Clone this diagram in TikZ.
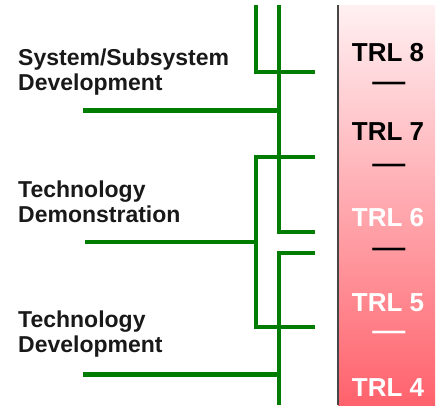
\documentclass[tikz,border=0pt]{standalone}
\usepackage{fontspec}
\usepackage{graphicx}
\setmainfont{Liberation Sans}
\definecolor{trlgreen}{RGB}{0,124,0}
\definecolor{pinktop}{RGB}{255,240,242}
\definecolor{pinkbot}{RGB}{255,98,108}
\definecolor{axisgray}{RGB}{70,70,70}
\definecolor{labelink}{RGB}{25,25,25}
\begin{document}
\begin{tikzpicture}[x=1pt,y=-1pt,
  gline/.style={draw=trlgreen,line width=3.4pt,line join=miter},
  thickline/.style={draw=trlgreen,line width=5pt},
  phase/.style={anchor=north west,inner sep=0pt,align=left,text=labelink,font=\fontsize{23}{25}\selectfont\bfseries},
  trl/.style={anchor=center,inner sep=0pt,font=\fontsize{26}{30}\selectfont\bfseries},
  sep/.style={anchor=base,inner sep=0pt,font=\fontsize{26}{30}\selectfont\bfseries}]
\useasboundingbox (0,0) rectangle (439,405);
% scale panel
\shade[top color=pinktop,bottom color=pinkbot] (338,5) rectangle (435,405);
\draw[axisgray,line width=2pt] (338,5) -- (338,405);
% coordinates of the green tree
\coordinate (a1) at (256,5);   \coordinate (a2) at (256,72);  \coordinate (a3) at (315,72);
\coordinate (b1) at (279,5);   \coordinate (b2) at (279,232); \coordinate (b3) at (315,232);
\coordinate (h1a) at (83,110); \coordinate (h1b) at (279,110);
\coordinate (c1) at (315,157); \coordinate (c2) at (256,157); \coordinate (c3) at (256,327); \coordinate (c4) at (315,327);
\coordinate (h2a) at (85,242); \coordinate (h2b) at (256,242);
\coordinate (d1) at (315,253); \coordinate (d2) at (279,253); \coordinate (d3) at (279,405);
\coordinate (h3a) at (83,374); \coordinate (h3b) at (279,374);
\draw[gline] (a1) -- (a2) -- (a3);
\draw[gline] (b1) -- (b2) -- (b3);
\draw[gline] (c1) -- (c2) -- (c3) -- (c4);
\draw[gline] (d1) -- (d2) -- (d3);
\draw[gline] (h2a) -- (h2b);
\draw[thickline] (h1a) -- (h1b);
\draw[thickline] (h3a) -- (h3b);
% phase labels
\node[phase] (sys) at (18,49) {System/Subsystem\\Development};
\node[phase] (demo) at (18,181) {Technology\\Demonstration};
\node[phase] (dev) at (18,311) {Technology\\Development};
% TRL labels
\node[trl,text=black] (t8) at (388,53) {TRL 8};
\node[sep,text=black] (s1) at (389,90) {\scalebox{1.27}[1]{—}};
\node[trl,text=black] (t7) at (388,132) {TRL 7};
\node[sep,text=black] (s2) at (389,172) {\scalebox{1.27}[1]{—}};
\node[trl,text=white] (t6) at (388,218) {TRL 6};
\node[sep,text=black] (s3) at (389,256) {\scalebox{1.27}[1]{—}};
\node[trl,text=white] (t5) at (388,303) {TRL 5};
\node[sep,text=white] (s4) at (389,339) {\scalebox{1.27}[1]{—}};
\node[trl,text=white] (t4) at (388,388) {TRL 4};
\end{tikzpicture}
\end{document}
